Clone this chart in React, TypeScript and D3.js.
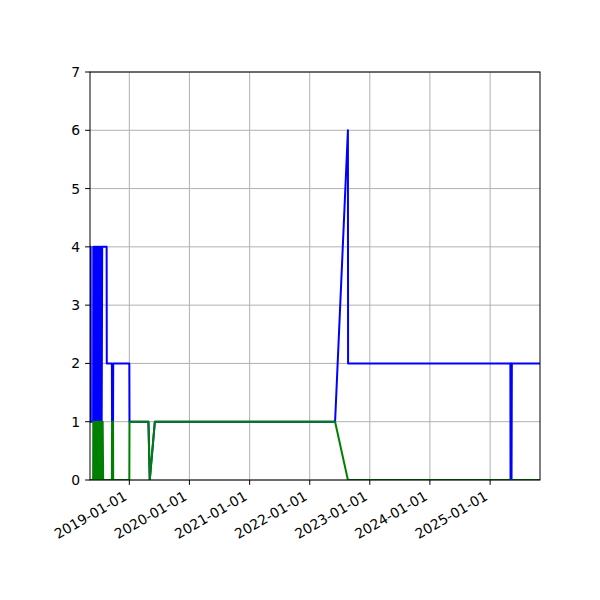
import React from 'react';
import * as d3 from 'd3';

// blue series
const blueDates = [
  '2018-05-07', '2018-05-11', '2018-05-12', '2018-05-26', '2018-05-27', '2018-05-30',
  '2018-06-02', '2018-06-05', '2018-06-08', '2018-06-11', '2018-06-14', '2018-06-17',
  '2018-06-20', '2018-06-23', '2018-06-26', '2018-06-29', '2018-07-02', '2018-07-05',
  '2018-07-08', '2018-07-11', '2018-07-14', '2018-07-17', '2018-07-20', '2018-07-23',
  '2018-08-16', '2018-08-17', '2018-09-17', '2018-09-18', '2018-09-24', '2018-09-25',
  '2019-01-01', '2019-01-02', '2019-04-27', '2019-05-05', '2019-06-05', '2022-06-04',
  '2022-08-21', '2022-08-22', '2025-05-04', '2025-05-05', '2025-05-07', '2025-05-08',
  '2025-05-10', '2025-05-11', '2025-05-13', '2025-10-31',
];
const blueValues = [
  4, 4, 1, 1, 4, 1,
  4, 1, 4, 1, 4, 1,
  4, 1, 4, 1, 4, 1,
  4, 1, 4, 1, 4, 4,
  4, 2, 2, 1, 1, 2,
  2, 1, 1, 0, 1, 1,
  6, 2, 2, 0, 2, 0,
  2, 0, 2, 2,
];

// green series
const greenDates = [
  '2018-05-07', '2018-05-26', '2018-05-27', '2018-05-30', '2018-06-02', '2018-06-05',
  '2018-06-08', '2018-06-11', '2018-06-14', '2018-06-17', '2018-06-20', '2018-06-23',
  '2018-06-26', '2018-06-29', '2018-07-02', '2018-07-05', '2018-07-08', '2018-07-11',
  '2018-07-14', '2018-07-17', '2018-07-20', '2018-07-23', '2018-07-26', '2018-09-17',
  '2018-09-18', '2018-09-24', '2018-09-25', '2019-01-01', '2019-01-02', '2019-04-27',
  '2019-05-05', '2019-06-05', '2022-06-04', '2022-08-21', '2025-10-31',
];
const greenValues = [
  0, 0, 1, 0, 1, 0,
  1, 0, 1, 0, 1, 0,
  1, 0, 1, 0, 1, 0,
  1, 0, 1, 1, 0, 0,
  1, 1, 0, 0, 1, 1,
  0, 1, 1, 0, 0,
];

const xTickLabels = ['2019-01-01', '2020-01-01', '2021-01-01', '2022-01-01', '2023-01-01', '2024-01-01', '2025-01-01'];
const yTicks = [0, 1, 2, 3, 4, 5, 6, 7];

const parse = d3.utcParse('%Y-%m-%d');

const App: React.FC = () => {
  const left = 90, right = 540, top = 72, bottom = 480;
  const font = 'DejaVu Sans, sans-serif';
  const fs = 13.9;

  const blue = blueDates.map((d, i) => ({ date: parse(d)!, value: blueValues[i] }));
  const green = greenDates.map((d, i) => ({ date: parse(d)!, value: greenValues[i] }));
  const all = [...blue, ...green];

  const x = d3.scaleUtc()
    .domain(d3.extent(all, d => d.date) as [Date, Date])
    .range([left, right]);
  const y = d3.scaleLinear().domain([0, 7]).range([bottom, top]);

  const line = d3.line<{ date: Date; value: number }>()
    .x(d => x(d.date))
    .y(d => y(d.value));

  const xTicks = xTickLabels.map(s => ({ label: s, pos: x(parse(s)!) }));

  return (
    <svg width={600} height={600} style={{ position: 'absolute', left: 0, top: 0, background: '#fff' }}>
      <rect x={0} y={0} width={600} height={600} fill="#fff" />
      {/* grid */}
      {xTicks.map(t => (
        <line key={t.label} x1={t.pos} x2={t.pos} y1={top} y2={bottom} stroke="#b0b0b0" strokeWidth={1} />
      ))}
      {yTicks.map(v => (
        <line key={v} x1={left} x2={right} y1={y(v)} y2={y(v)} stroke="#b0b0b0" strokeWidth={1} />
      ))}

      <g clipPath="url(#clip)">
        <path d={line(blue)!} fill="none" stroke="#0000ff" strokeWidth={2} strokeLinejoin="round" />
        <path d={line(green)!} fill="none" stroke="#008000" strokeWidth={2} strokeLinejoin="round" />
      </g>
      <defs>
        <clipPath id="clip">
          <rect x={left} y={top - 2} width={right - left} height={bottom - top + 2} />
        </clipPath>
      </defs>

      {/* spines */}
      <rect x={left} y={top} width={right - left} height={bottom - top} fill="none" stroke="#000" strokeWidth={1} />

      {/* x ticks */}
      {xTicks.map(t => (
        <g key={t.label}>
          <line x1={t.pos} x2={t.pos} y1={bottom} y2={bottom + 4.9} stroke="#000" strokeWidth={1} />
          <text
            transform={`translate(${t.pos - 1.5},${bottom + 19}) rotate(-30)`}
            textAnchor="end"
            fontFamily={font}
            fontSize={fs}
            fill="#000"
          >{t.label}</text>
        </g>
      ))}

      {/* y ticks */}
      {yTicks.map(v => (
        <g key={v}>
          <line x1={left - 4.9} x2={left} y1={y(v)} y2={y(v)} stroke="#000" strokeWidth={1} />
          <text x={left - 9.8} y={y(v)} dy="0.36em" textAnchor="end" fontFamily={font} fontSize={fs} fill="#000">{v}</text>
        </g>
      ))}
    </svg>
  );
};

export default App;
